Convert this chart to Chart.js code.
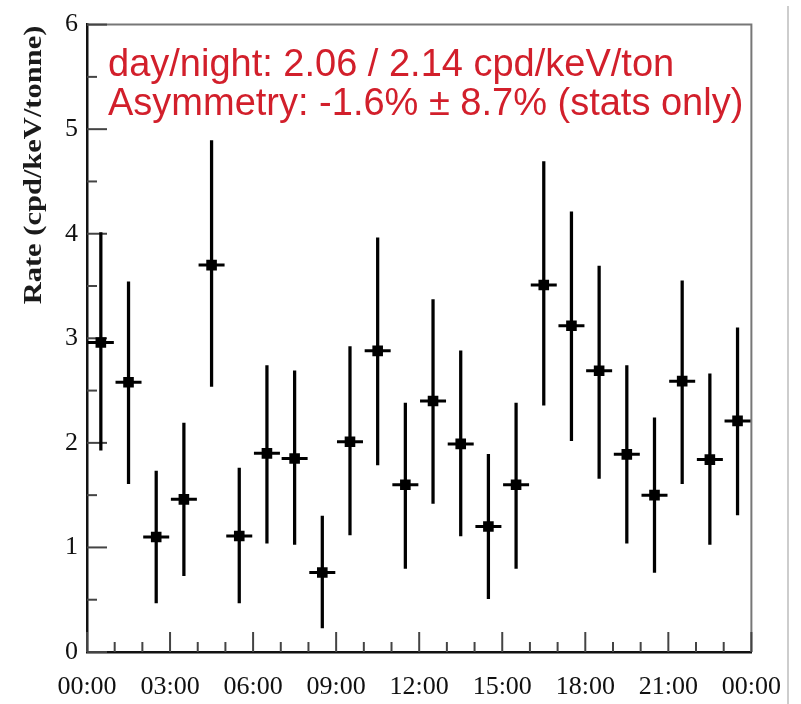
<!DOCTYPE html>
<html>
<head>
<meta charset="utf-8">
<script src="https://cdn.jsdelivr.net/npm/chart.js@4"></script>
<style>
  html, body { margin: 0; padding: 0; background: #fff; }
  canvas { display: block; }
</style>
</head>
<body>
<canvas id="rateChart" width="801" height="704"></canvas>
<script>
// Hourly bins (centre of each one-hour bin, in hours of the day)
const binCenters = [0.5, 1.5, 2.5, 3.5, 4.5, 5.5, 6.5, 7.5, 8.5, 9.5, 10.5, 11.5,
                    12.5, 13.5, 14.5, 15.5, 16.5, 17.5, 18.5, 19.5, 20.5, 21.5, 22.5, 23.5];
// Measured rate per bin (cpd/keV/tonne)
const rate     = [2.96, 2.58, 1.10, 1.46, 3.70, 1.11, 1.90, 1.85, 0.76, 2.01, 2.88, 1.60,
                  2.40, 1.99, 1.20, 1.60, 3.51, 3.12, 2.69, 1.89, 1.50, 2.59, 1.84, 2.21];
// Lower and upper ends of the statistical error bars
const rateLow  = [1.93, 1.61, 0.47, 0.73, 2.54, 0.47, 1.04, 1.03, 0.23, 1.12, 1.79, 0.80,
                  1.42, 1.11, 0.51, 0.80, 2.36, 2.02, 1.66, 1.04, 0.76, 1.61, 1.03, 1.31];
const rateHigh = [4.01, 3.54, 1.73, 2.19, 4.89, 1.76, 2.74, 2.69, 1.30, 2.92, 3.96, 2.38,
                  3.37, 2.88, 1.89, 2.38, 4.69, 4.21, 3.69, 2.74, 2.24, 3.55, 2.66, 3.10];

// Axis ticks
const xTickHours  = [0, 3, 6, 9, 12, 15, 18, 21, 24];
const xTickLabels = ['00:00', '03:00', '06:00', '09:00', '12:00', '15:00', '18:00', '21:00', '00:00'];
const yTickValues = [0, 1, 2, 3, 4, 5, 6];
const yAxisTitle = 'Rate (cpd/keV/tonne)';

// Summary text in the upper left of the plot
const summaryLines = [
  'day/night: 2.06 / 2.14 cpd/keV/ton',
  'Asymmetry: -1.6% \u00b1 8.7% (stats only)'
];

const SERIF = '"Liberation Serif", "Times New Roman", serif';
const SANS = '"Liberation Sans", Arial, sans-serif';

// Frame, inward tick marks, the y-axis title and the summary text
const decorations = {
  id: 'decorations',
  beforeDatasetsDraw(chart) {
    const { ctx, chartArea: a, scales: { x, y } } = chart;
    ctx.save();
    // top and right frame
    ctx.strokeStyle = '#777';
    ctx.lineWidth = 2;
    ctx.beginPath();
    ctx.moveTo(a.left, a.top);
    ctx.lineTo(a.right, a.top);
    ctx.lineTo(a.right, a.bottom);
    ctx.stroke();

    // inward ticks on the y axis: long on whole numbers, short on halves
    ctx.strokeStyle = '#444';
    ctx.lineWidth = 2;
    for (let v = 0; v <= 6; v += 0.5) {
      const py = y.getPixelForValue(v);
      const len = Number.isInteger(v) ? 20 : 10;
      ctx.beginPath();
      ctx.moveTo(a.left, py);
      ctx.lineTo(a.left + len, py);
      ctx.stroke();
    }
    // inward ticks on the x axis: long every 3 h, short every hour
    for (let h = 0; h <= 24; h++) {
      const px = x.getPixelForValue(h);
      const len = h % 3 === 0 ? 20 : 10;
      ctx.beginPath();
      ctx.moveTo(px, a.bottom);
      ctx.lineTo(px, a.bottom - len);
      ctx.stroke();
    }

    // page edge line at the far right
    ctx.strokeStyle = '#bdbdbd';
    ctx.lineWidth = 1.5;
    ctx.beginPath();
    ctx.moveTo(788, 6);
    ctx.lineTo(788, chart.height);
    ctx.stroke();

    // y-axis title, rotated and drawn slightly widened along its length
    ctx.save();
    ctx.translate(35, a.top + 1);
    ctx.rotate(-Math.PI / 2);
    ctx.scale(1.22, 1);
    ctx.fillStyle = '#1a1a1a';
    ctx.font = 'bold 25px ' + SERIF;
    ctx.textAlign = 'right';
    ctx.textBaseline = 'middle';
    ctx.fillText(yAxisTitle, 0, 0);
    ctx.restore();

    // summary text
    ctx.fillStyle = '#d21f2b';
    ctx.font = '38px ' + SANS;
    ctx.textAlign = 'left';
    ctx.textBaseline = 'alphabetic';
    ctx.fillText(summaryLines[0], 108, 76);
    ctx.fillText(summaryLines[1], 108, 115);
    ctx.restore();
  }
};

const ctx = document.getElementById('rateChart').getContext('2d');
new Chart(ctx, {
  type: 'bar',
  data: {
    datasets: [
      {
        // vertical error bars as floating bars
        type: 'bar',
        data: binCenters.map((h, i) => ({ x: h, y: [rateLow[i], rateHigh[i]] })),
        backgroundColor: '#000',
        borderWidth: 0,
        barThickness: 2.6,
        order: 3
      },
      {
        // horizontal bin-width bars
        type: 'scatter',
        data: binCenters.map((h, i) => ({ x: h, y: rate[i] })),
        pointStyle: 'line',
        pointRadius: 13,
        borderColor: '#000',
        borderWidth: 3,
        showLine: false,
        order: 2
      },
      {
        // square markers at the measured rate
        type: 'scatter',
        data: binCenters.map((h, i) => ({ x: h, y: rate[i] })),
        pointStyle: 'rect',
        pointRadius: 7.5,
        backgroundColor: '#000',
        borderWidth: 0,
        showLine: false,
        order: 1
      }
    ]
  },
  options: {
    responsive: false,
    animation: false,
    events: [],
    layout: { padding: { top: 20, right: 42, left: 0, bottom: 0 } },
    plugins: {
      legend: { display: false },
      tooltip: { enabled: false },
      title: { display: false }
    },
    scales: {
      x: {
        type: 'linear',
        min: 0,
        max: 24,
        offset: false,
        grid: { display: false, drawTicks: false, offset: false },
        border: { display: true, color: '#111', width: 2.5 },
        afterBuildTicks: (s) => { s.ticks = xTickHours.map(v => ({ value: v })); },
        afterFit: (s) => { s.height = 52; },
        ticks: {
          autoSkip: false,
          maxRotation: 0,
          padding: 20,
          color: '#111',
          font: { family: SERIF, size: 26 },
          callback: (v, i) => xTickLabels[i]
        }
      },
      y: {
        type: 'linear',
        min: 0,
        max: 6,
        grid: { display: false, drawTicks: false },
        border: { display: true, color: '#111', width: 2.5 },
        afterBuildTicks: (s) => { s.ticks = yTickValues.map(v => ({ value: v })); },
        afterFit: (s) => { s.width = 87; },
        ticks: {
          padding: 9,
          color: '#111',
          font: { family: SERIF, size: 26 }
        }
      }
    }
  },
  plugins: [decorations]
});
</script>
</body>
</html>
